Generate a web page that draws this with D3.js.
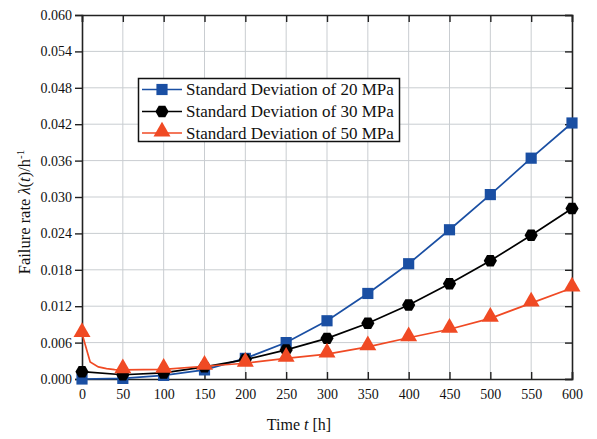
<!DOCTYPE html>
<html>
<head>
<meta charset="utf-8">
<script src="https://cdn.jsdelivr.net/npm/d3@7"></script>
<style>
  html, body { margin: 0; padding: 0; background: #fff; }
  svg { display: block; }
  svg text { font-family: "Liberation Serif", "DejaVu Serif", serif !important; fill: #111; }
</style>
</head>
<body>
<svg id="chart" width="597" height="439"></svg>
<script>
// ---- data ----
const times = [0, 50, 100, 150, 200, 250, 300, 350, 400, 450, 500, 550, 600];
const sd20 = [0.0000, 0.0001, 0.0006, 0.0015, 0.0034, 0.0060, 0.0096, 0.0141, 0.0190, 0.0246, 0.0304, 0.0364, 0.0422];
const sd30 = [0.0012, 0.0007, 0.0010, 0.0020, 0.0032, 0.0048, 0.0067, 0.0092, 0.0122, 0.0157, 0.0195, 0.0237, 0.0281];
const sd50 = [0.0075, 0.0015, 0.0016, 0.0021, 0.0026, 0.0034, 0.0041, 0.0053, 0.0068, 0.0082, 0.0100, 0.0125, 0.0150];
// extra line points of the 50 MPa curve between markers (no markers)
const sd50EarlyTimes = [10, 20, 30, 40];
const sd50EarlyValues = [0.0028, 0.0020, 0.0017, 0.00155];
const seriesNames = ["Standard Deviation of 20 MPa", "Standard Deviation of 30 MPa", "Standard Deviation of 50 MPa"];
const xTicks = [0, 50, 100, 150, 200, 250, 300, 350, 400, 450, 500, 550, 600];
const yTicks = [0.000, 0.006, 0.012, 0.018, 0.024, 0.030, 0.036, 0.042, 0.048, 0.054, 0.060];

// ---- layout ----
const svg = d3.select("#chart");
const L = 82, R = 572, T = 15, B = 379;
const x = d3.scaleLinear().domain([0, 600]).range([L, R]);
const y = d3.scaleLinear().domain([0, 0.060]).range([B, T]);

const colors = ["#1a4fa3", "#000000", "#f04a24"];

// grid
const grid = svg.append("g");
grid.selectAll("line.gx").data(xTicks.slice(1, -1)).join("line")
  .attr("x1", d => x(d)).attr("x2", d => x(d)).attr("y1", T).attr("y2", B)
  .attr("stroke", "#c9cdd1").attr("stroke-width", 1);
grid.selectAll("line.gy").data(yTicks.slice(1, -1)).join("line")
  .attr("x1", L).attr("x2", R).attr("y1", d => y(d)).attr("y2", d => y(d))
  .attr("stroke", "#c9cdd1").attr("stroke-width", 1);

// axes
const tickLen = 7;
const xAxisB = svg.append("g").attr("transform", `translate(0,${B})`)
  .call(d3.axisBottom(x).tickValues(xTicks).tickSize(-tickLen).tickPadding(10).tickFormat(d3.format("d")));
const xAxisT = svg.append("g").attr("transform", `translate(0,${T})`)
  .call(d3.axisTop(x).tickValues(xTicks).tickSize(-tickLen).tickFormat(""));
const yAxisL = svg.append("g").attr("transform", `translate(${L},0)`)
  .call(d3.axisLeft(y).tickValues(yTicks).tickSize(tickLen).tickPadding(3).tickFormat(d3.format(".3f")));
const yAxisR = svg.append("g").attr("transform", `translate(${R},0)`)
  .call(d3.axisRight(y).tickValues(yTicks).tickSize(-tickLen).tickFormat(""));
[xAxisB, xAxisT, yAxisL, yAxisR].forEach(g => {
  g.attr("font-family", null);
  g.select(".domain").attr("stroke", "#222").attr("stroke-width", 1.6);
  g.selectAll(".tick line").attr("stroke", "#222").attr("stroke-width", 1.4);
  g.selectAll(".tick text").attr("font-size", 14).style("font-family", "'Liberation Serif', serif").attr("fill", "#111");
});

// axis titles
svg.append("text").attr("x", 299).attr("y", 430).attr("text-anchor", "middle").attr("font-size", 16)
  .html('Time <tspan font-style="italic">t</tspan> [h]');
svg.append("text").attr("transform", "translate(30,212) rotate(-90)").attr("text-anchor", "middle").attr("font-size", 16.5)
  .html('Failure rate <tspan font-style="italic">λ</tspan>(<tspan font-style="italic">t</tspan>)/h<tspan dy="-6" font-size="11">-1</tspan>');

// markers
const symSquare = d3.symbol().type(d3.symbolSquare).size(125);
const symTri = d3.symbol().type(d3.symbolTriangle).size(125);
function hexPath(r) {
  const pts = d3.range(6).map(i => {
    const a = Math.PI / 3 * i;
    return [r * Math.cos(a), r * Math.sin(a)];
  });
  return "M" + pts.map(p => p.join(",")).join("L") + "Z";
}
const markers = [
  g => g.append("path").attr("d", symSquare()),
  g => g.append("path").attr("d", hexPath(6.6)),
  g => g.append("path").attr("d", symTri()).attr("transform", "translate(0,-1.5)")
];

const line = d3.line().x(d => x(d[0])).y(d => y(d[1]));
const plot = svg.append("g");
const lineData = [
  times.map((t, i) => [t, sd20[i]]),
  times.map((t, i) => [t, sd30[i]]),
  [[times[0], sd50[0]]].concat(sd50EarlyTimes.map((t, i) => [t, sd50EarlyValues[i]]), times.slice(1).map((t, i) => [t, sd50[i + 1]]))
];
const markerData = [sd20, sd30, sd50].map(vals => times.map((t, i) => [t, vals[i]]));

[0, 1, 2].forEach(s => {
  plot.append("path").datum(lineData[s]).attr("d", line)
    .attr("fill", "none").attr("stroke", colors[s]).attr("stroke-width", 1.7);
  markerData[s].forEach(d => {
    const g = plot.append("g").attr("transform", `translate(${x(d[0])},${y(d[1])})`)
      .attr("fill", colors[s]);
    markers[s](g);
  });
});

// legend
const leg = svg.append("g");
leg.append("rect").attr("x", 138.5).attr("y", 78.5).attr("width", 261).attr("height", 63)
  .attr("fill", "#fff").attr("stroke", "#111").attr("stroke-width", 1.5);
const rowsY = [89.5, 111.5, 133];
seriesNames.forEach((name, s) => {
  leg.append("line").attr("x1", 142).attr("x2", 182).attr("y1", rowsY[s]).attr("y2", rowsY[s])
    .attr("stroke", colors[s]).attr("stroke-width", 1.7);
  const g = leg.append("g").attr("transform", `translate(162,${rowsY[s]})`).attr("fill", colors[s]);
  markers[s](g);
  leg.append("text").attr("x", 186).attr("y", rowsY[s] + 5.5).attr("font-size", 17).text(name);
});
</script>
</body>
</html>
